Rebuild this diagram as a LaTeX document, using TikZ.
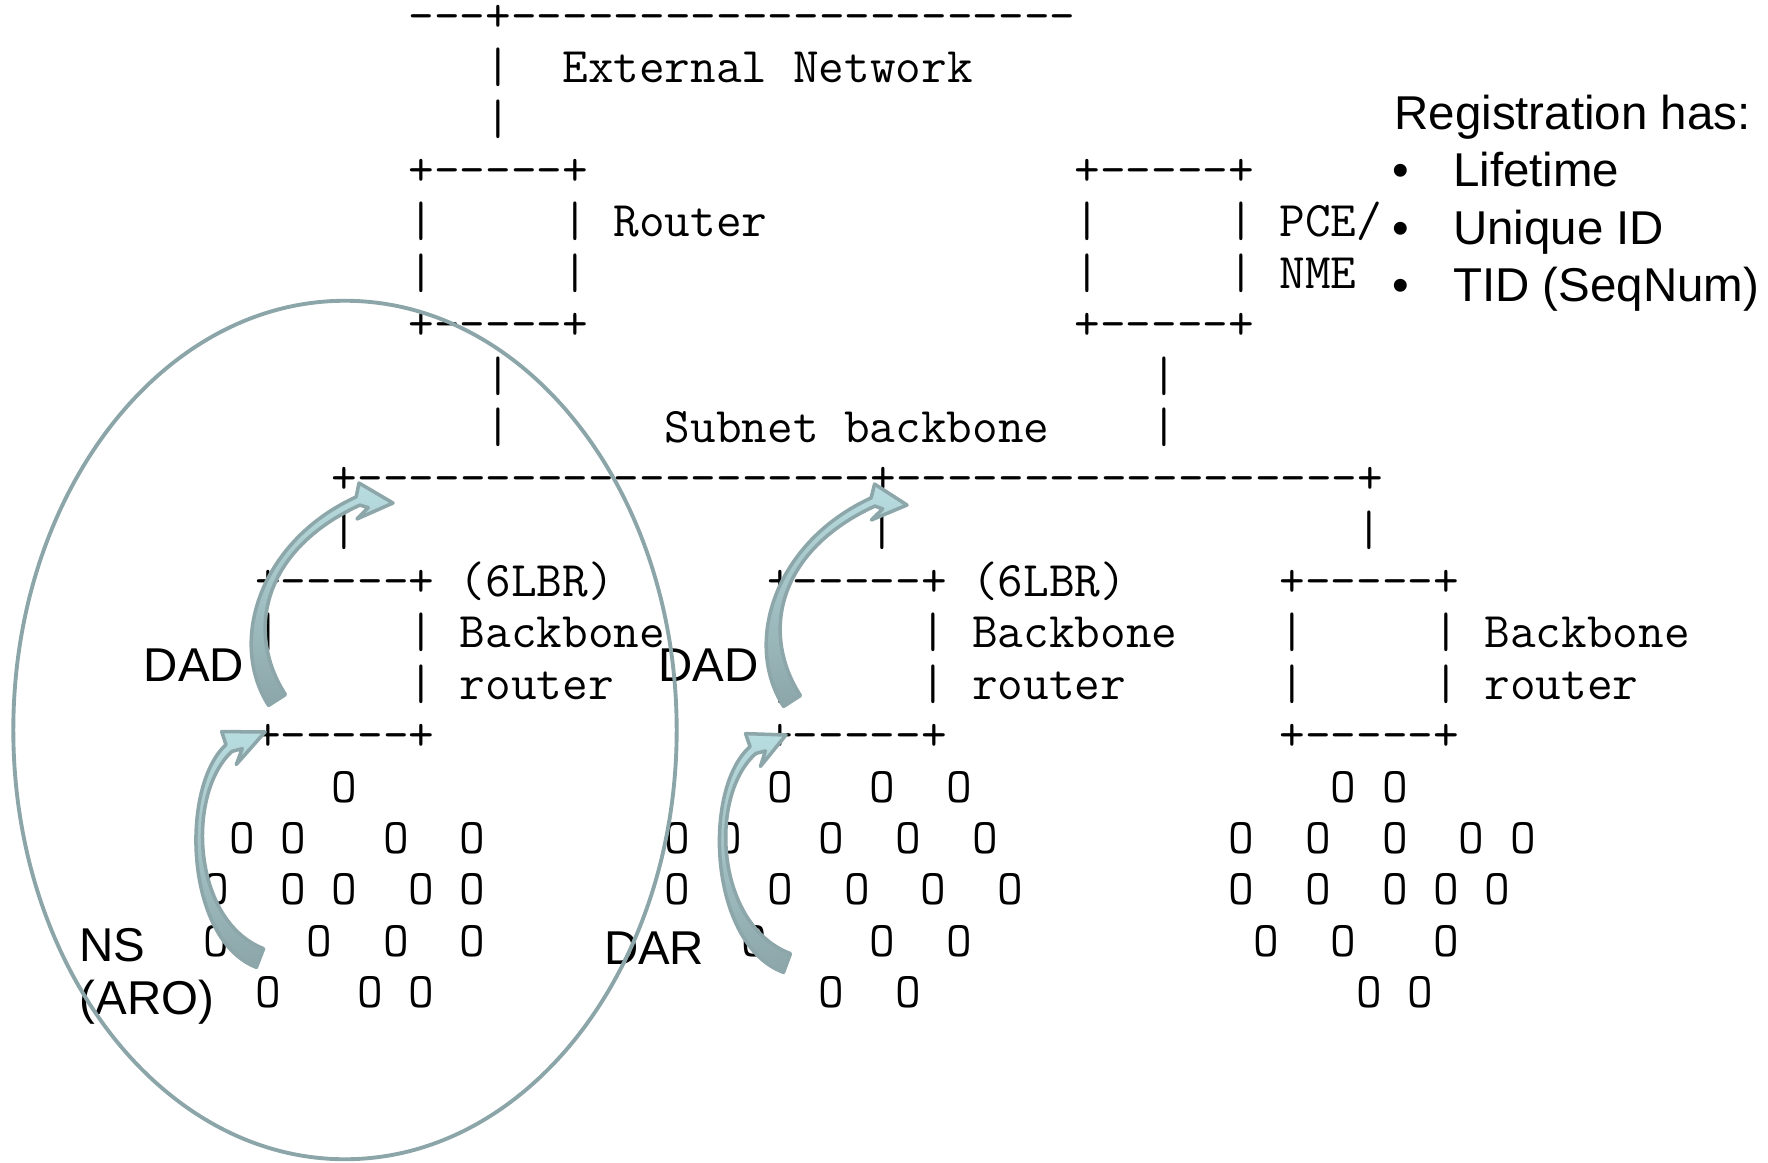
\documentclass[tikz,border=0pt]{standalone}
\usepackage{fontspec}
\usetikzlibrary{calc}
\newfontfamily\arialfont{Liberation Sans}
\definecolor{ringcol}{HTML}{8BA5A8}
\definecolor{arrowdk}{HTML}{8CA6A9}
\definecolor{arrowlt}{HTML}{B8DDE0}
\newcommand\asciifont{\fontsize{14.16pt}{16pt}\selectfont\ttfamily}
\newcommand\labelfont{\fontsize{13.5pt}{16pt}\selectfont\arialfont}
% bent block arrow from (#1-t) over (#1-p),(#1-q) to (#1-b), head tip at (#1-h)
\newcommand\bentarrow[1]{%
  \path[arrowbody]
    ($(#1-t)!1mm!90:(#1-p)$) .. controls ($(#1-p)!1mm!-90:(#1-t)$) and ($(#1-q)!0.45mm!90:(#1-b)$) .. ($(#1-b)!0.45mm!-90:(#1-q)$)
    -- ($(#1-b)!1.8mm!90:(#1-h)$) -- (#1-h) -- ($(#1-b)!1.8mm!-90:(#1-h)$)
    -- ($(#1-b)!0.3!(#1-h)!0.6mm!-90:(#1-h)$)
    -- ($(#1-b)!0.45mm!90:(#1-q)$) .. controls ($(#1-q)!0.45mm!-90:(#1-b)$) and ($(#1-p)!1mm!90:(#1-t)$) .. ($(#1-t)!1mm!-90:(#1-p)$) -- cycle;}

\begin{document}
\begin{tikzpicture}[x=0.01cm, y=-0.01cm,
  asc/.style={anchor=base west, inner sep=0pt, font=\asciifont},
  lbl/.style={anchor=base west, inner sep=0pt, font=\labelfont},
  arrowbody/.style={draw=arrowdk, line width=1pt, line join=round, top color=arrowlt, middle color=arrowdk!65!arrowlt, bottom color=arrowdk}]
  \useasboundingbox (0,0) rectangle (1768,1163);

  % ascii network, column/row grid
  \begin{scope}[shift={(254.3,31.5)}, x=2.56mm, y=-5.134mm]
    \foreach \c/\r/\t in {6/0/{---+----------------------}, 9/1/|, 12/1/{External Network}, 9/2/|,
        6/3/{+-----+}, 32/3/{+-----+},
        6/4/|, 12/4/|, 14/4/Router, 32/4/|, 38/4/|, 40/4/{PCE/},
        6/5/|, 12/5/|, 32/5/|, 38/5/|, 40/5/NME,
        6/6/{+-----+}, 32/6/{+-----+},
        9/7/|, 35/7/|, 9/8/|, 16/8/{Subnet backbone}, 35/8/|,
        3/9/{+--------------------+------------------+},
        3/10/|, 24/10/|, 43/10/|,
        0/11/{+-----+}, 8/11/{(6LBR)}, 20/11/{+-----+}, 28/11/{(6LBR)}, 40/11/{+-----+},
        0/12/|, 6/12/|, 8/12/Backbone, 20/12/|, 26/12/|, 28/12/Backbone, 40/12/|, 46/12/|, 48/12/Backbone,
        0/13/|, 6/13/|, 8/13/router, 20/13/|, 26/13/|, 28/13/router, 40/13/|, 46/13/|, 48/13/router,
        0/14/{+-----+}, 20/14/{+-----+}, 40/14/{+-----+}}
      \node[asc] (a\c-\r) at (\c,\r) {\t};
    % sensor nodes
    \foreach \r/\cols in {15/{3,20,24,27,42,44},
        16/{-1,1,5,8,16,18,22,25,28,38,41,44,47,49},
        17/{-2,1,3,6,8,16,20,23,26,29,38,41,44,46,48},
        18/{-2,2,5,8,19,24,27,39,42,46},
        19/{0,4,6,22,25,43,45}}
      \foreach \c in \cols
        \node[asc] (o\r-\c) at (\c,\r) {O};
  \end{scope}

  \node[lbl] (reg) at (1393.7,129.7) {Registration has:};
  \foreach \t [count=\i] in {Lifetime, Unique ID, TID (SeqNum)}
    \node[lbl] (item\i) at (1391.7,129.1+57.5*\i) {\makebox[6.07mm][l]{\textbullet}\t};
  \node[lbl] (dadA) at (143.2,681) {DAD};
  \node[lbl] (dadB) at (657.4,681) {DAD};
  \node[lbl] (ns) at (78.9,961.9) {NS};
  \node[lbl] (aro) at (78.9,1014.8) {(ARO)};
  \node[lbl] (dar) at (603.3,964) {DAR};

  % registration domain of the first backbone router
  \draw[ringcol, line width=1.1pt] (345,730) ellipse [x radius=3.315cm, y radius=4.29cm];

  \coordinate (dad1-t) at (277,700);
  \coordinate (dad1-p) at (236,636);
  \coordinate (dad1-q) at (262,545);
  \coordinate (dad1-b) at (358,501);
  \coordinate (dad1-h) at (393,503);
  \coordinate (ns1-t) at (260,958);
  \coordinate (ns1-p) at (188,930);
  \coordinate (ns1-q) at (183,790);
  \coordinate (ns1-b) at (229,748);
  \coordinate (ns1-h) at (265,732);
  \coordinate (dad2-t) at (792,701);
  \coordinate (dad2-p) at (751,637);
  \coordinate (dad2-q) at (777,546);
  \coordinate (dad2-b) at (873,502);
  \coordinate (dad2-h) at (907,505);
  \coordinate (dar2-t) at (787,963);
  \coordinate (dar2-p) at (712,935);
  \coordinate (dar2-q) at (705,792);
  \coordinate (dar2-b) at (753,750);
  \coordinate (dar2-h) at (786,735);
  \bentarrow{dad1}
  \bentarrow{ns1}
  \bentarrow{dad2}
  \bentarrow{dar2}
\end{tikzpicture}
\end{document}
